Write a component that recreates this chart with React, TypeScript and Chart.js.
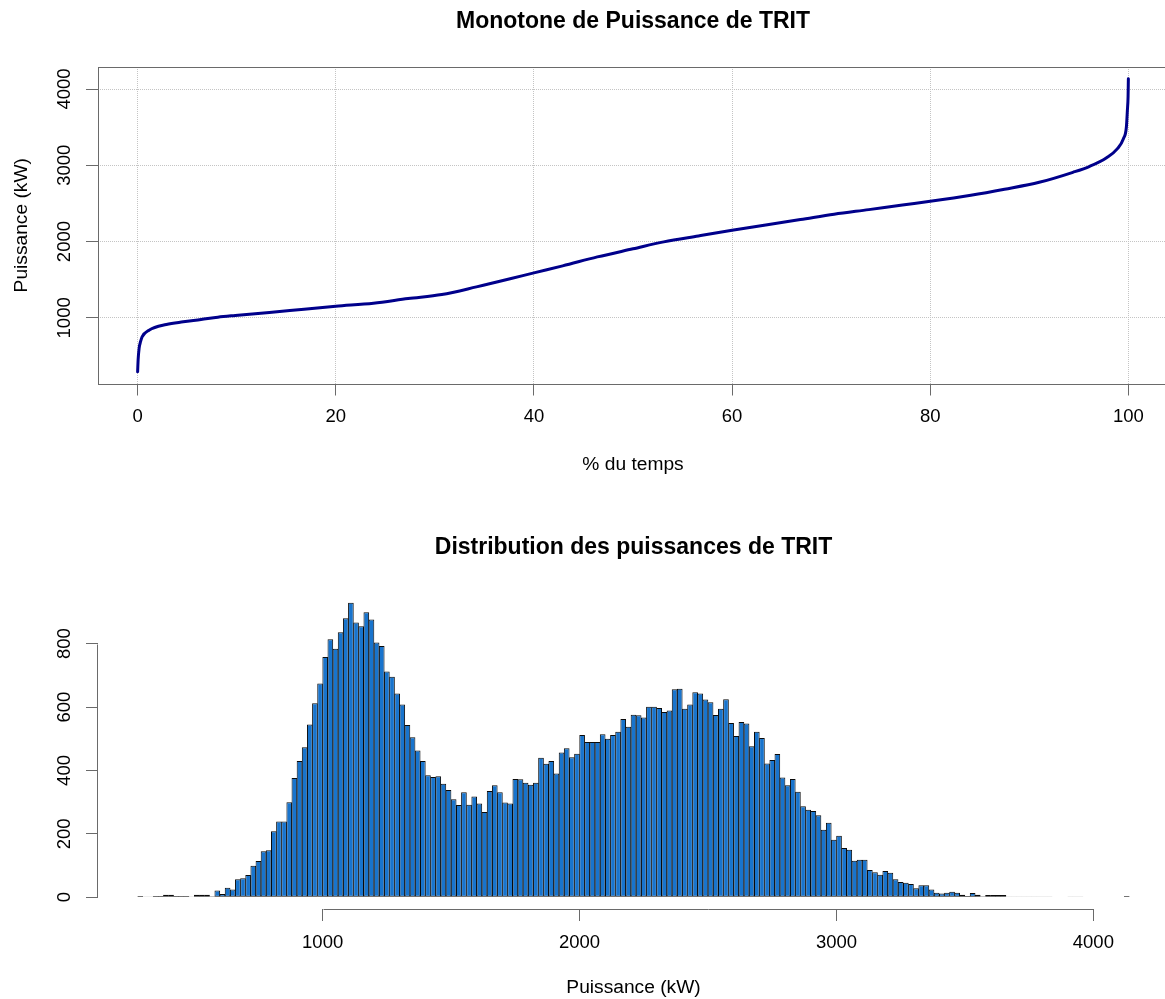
import React, { useEffect, useRef } from "react";
import { Chart, registerables } from "chart.js";

Chart.register(...registerables);

const FONT = "'Liberation Sans', Arial, Helvetica, sans-serif";
const AXIS_COLOR = "#6a6a6a";
const GRID_COLOR = "#c4c4c4";

// ---------- Monotone (load-duration curve) ----------
const monoTitle = "Monotone de Puissance de TRIT";
const monoXLabel = "% du temps";
const monoYLabel = "Puissance (kW)";
const monoPct = [
  0, 0.05, 0.15, 0.3, 0.45, 1.15, 2.9, 4.6, 6.4, 8.1, 9.85, 13.3, 16.8, 20,
  23.8, 27.3, 30.7, 34.2, 37.7, 40, 42.9, 46.4, 50, 53.1, 56.6, 60, 63.4, 66.9,
  70.3, 73.8, 77.2, 80, 84.1, 87.5, 91, 94.4, 96.1, 97.8, 98.9, 99.5, 99.8,
  99.9, 99.97, 100,
];
const monoKW = [
  293, 450, 600, 690, 751, 838, 913, 948, 978, 1009, 1031, 1070, 1114, 1153,
  1192, 1253, 1306, 1406, 1515, 1590, 1681, 1799, 1905, 1996, 2074, 2148, 2218,
  2288, 2358, 2419, 2480, 2528, 2607, 2686, 2777, 2908, 2987, 3100, 3218, 3349,
  3502, 3720, 3900, 4135,
];
const monoXTicks = [0, 20, 40, 60, 80, 100];
const monoYTicks = [1000, 2000, 3000, 4000];

// ---------- Histogram ----------
const histTitle = "Distribution des puissances de TRIT";
const histXLabel = "Puissance (kW)";
const histBinStart = 280;
const histBinWidth = 20;
const histCounts = [
  4, 1, 2, 4, 4, 8, 8, 4, 4, 4,
  2, 8, 8, 8, 3, 21, 10, 30, 24, 57,
  60, 70, 99, 114, 145, 148, 208, 239, 239, 300,
  376, 430, 473, 545, 612, 674, 758, 814, 784, 836,
  880, 929, 867, 855, 899, 876, 804, 793, 712, 696,
  643, 608, 543, 505, 463, 430, 385, 379, 382, 358,
  338, 309, 291, 331, 292, 318, 296, 269, 335, 353,
  331, 299, 296, 373, 372, 361, 355, 361, 440, 421,
  430, 390, 457, 470, 442, 453, 512, 490, 490, 490,
  514, 500, 512, 522, 562, 538, 576, 574, 567, 601,
  601, 597, 584, 589, 656, 658, 595, 608, 647, 643,
  624, 615, 575, 595, 625, 550, 509, 553, 548, 476,
  522, 502, 422, 433, 452, 378, 353, 373, 333, 287,
  276, 272, 259, 213, 235, 181, 194, 155, 150, 115,
  118, 118, 86, 79, 71, 83, 77, 57, 48, 46,
  42, 28, 38, 38, 24, 14, 12, 14, 17, 14,
  8, 4, 13, 8, 3, 7, 7, 7, 7, 2,
  2, 2, 2, 2, 2, 2, 2, 2, 0, 0,
  0, 2, 2, 2, 0, 0, 0, 0, 0, 0,
  0, 0, 4,
];
const histXTicks = [1000, 2000, 3000, 4000];
const histYTicks = [0, 200, 400, 600, 800];

// R-style 4% axis extension
function extend(lo: number, hi: number): [number, number] {
  const d = (hi - lo) * 0.04;
  return [lo - d, hi + d];
}

const boxPlugin = {
  id: "rbox",
  afterDraw(chart: any) {
    const { ctx, chartArea: a } = chart;
    ctx.save();
    ctx.strokeStyle = AXIS_COLOR;
    ctx.lineWidth = 1;
    ctx.strokeRect(
      Math.round(a.left) + 0.5,
      Math.round(a.top) + 0.5,
      Math.round(a.right - a.left),
      Math.round(a.bottom - a.top)
    );
    ctx.restore();
  },
};

const axisLinePlugin = {
  id: "raxis",
  afterDraw(chart: any) {
    const { ctx, chartArea: a, scales } = chart;
    const xs = scales.x;
    const ys = scales.y;
    ctx.save();
    ctx.strokeStyle = AXIS_COLOR;
    ctx.lineWidth = 1;
    ctx.beginPath();
    const yy = Math.round(a.bottom) + 0.5;
    ctx.moveTo(Math.round(xs.getPixelForValue(histXTicks[0])) + 0.5, yy);
    ctx.lineTo(Math.round(xs.getPixelForValue(histXTicks[histXTicks.length - 1])) + 0.5, yy);
    const xx = Math.round(a.left) - 0.5;
    ctx.moveTo(xx, Math.round(ys.getPixelForValue(histYTicks[0])) + 0.5);
    ctx.lineTo(xx, Math.round(ys.getPixelForValue(histYTicks[histYTicks.length - 1])) + 0.5);
    ctx.stroke();
    ctx.restore();
  },
};

const tickFont = { family: FONT, size: 18.5, lineHeight: 1.2 };
const axisTitleFont = { family: FONT, size: 19.2, lineHeight: 1.2 };
const mainTitleFont = { family: FONT, size: 23, weight: "bold", lineHeight: 1.2 };

function MonoChart() {
  const ref = useRef<HTMLCanvasElement>(null);
  useEffect(() => {
    const [xMin, xMax] = extend(Math.min(...monoPct), Math.max(...monoPct));
    const [yMin, yMax] = extend(Math.min(...monoKW), Math.max(...monoKW));
    const chart = new Chart(ref.current as HTMLCanvasElement, {
      type: "line",
      data: {
        datasets: [
          {
            data: monoPct.map((x, i) => ({ x, y: monoKW[i] })),
            borderColor: "#00008B",
            borderWidth: 3,
            pointRadius: 0,
            fill: false,
            cubicInterpolationMode: "monotone",
            borderJoinStyle: "round",
            borderCapStyle: "round",
          },
        ],
      },
      options: {
        animation: false,
        responsive: false,
        events: [],
        layout: { padding: { left: 0, right: 2, top: 0, bottom: 0 } },
        plugins: {
          legend: { display: false },
          tooltip: { enabled: false },
          title: {
            display: true,
            text: monoTitle,
            color: "#000",
            fullSize: false,
            font: mainTitleFont,
            padding: { top: 7.6, bottom: 31.8 },
          },
        },
        scales: {
          x: {
            type: "linear",
            min: xMin,
            max: xMax,
            afterBuildTicks: (s: any) => {
              s.ticks = monoXTicks.map((v) => ({ value: v }));
            },
            afterFit: (s: any) => {
              s.height = 106.5;
              s.paddingLeft = 0;
              s.paddingRight = 0;
            },
            ticks: {
              autoSkip: false,
              maxRotation: 0,
              color: "#000",
              padding: 10.4,
              font: tickFont,
              callback: (v: any) => String(v),
            },
            grid: {
              color: GRID_COLOR,
              lineWidth: 1,
              drawTicks: true,
              tickLength: 12,
              tickColor: AXIS_COLOR,
              tickWidth: 1,
            },
            border: { display: false, dash: [1, 1] },
            title: {
              display: true,
              text: monoXLabel,
              color: "#000",
              font: axisTitleFont,
              padding: { top: 0, bottom: 13.5 },
            },
          },
          y: {
            type: "linear",
            min: yMin,
            max: yMax,
            afterBuildTicks: (s: any) => {
              s.ticks = monoYTicks.map((v) => ({ value: v }));
            },
            afterFit: (s: any) => {
              s.width = 98;
              s.paddingTop = 0;
              s.paddingBottom = 0;
            },
            ticks: {
              autoSkip: false,
              minRotation: 90,
              maxRotation: 90,
              crossAlign: "center",
              color: "#000",
              padding: 0.4,
              font: tickFont,
              callback: (v: any) => String(v),
            },
            grid: {
              color: GRID_COLOR,
              lineWidth: 1,
              drawTicks: true,
              tickLength: 12,
              tickColor: AXIS_COLOR,
              tickWidth: 1,
            },
            border: { display: false, dash: [1, 1] },
            title: {
              display: true,
              text: monoYLabel,
              color: "#000",
              font: axisTitleFont,
              padding: { top: 10.5, bottom: 0 },
            },
          },
        },
      },
      plugins: [boxPlugin],
    } as any);
    return () => chart.destroy();
  }, []);
  return (
    <canvas
      ref={ref}
      width={1170}
      height={490}
      style={{ display: "block", width: 1170, height: 490 }}
    />
  );
}

function HistChart() {
  const ref = useRef<HTMLCanvasElement>(null);
  useEffect(() => {
    const lastEdge = histBinStart + histBinWidth * histCounts.length;
    const [xMin, xMax] = extend(histBinStart, lastEdge);
    const [yMin, yMax] = extend(0, Math.max(...histCounts));
    const chart = new Chart(ref.current as HTMLCanvasElement, {
      type: "bar",
      data: {
        datasets: [
          {
            data: histCounts.map((c, i) => ({
              x: histBinStart + histBinWidth * (i + 0.5),
              y: c,
            })),
            backgroundColor: "#1874CD",
            borderColor: "#0a0a0a",
            borderWidth: 1,
            borderSkipped: false,
            inflateAmount: 0,
            barPercentage: 1.1,
            categoryPercentage: 1,
          },
        ],
      },
      options: {
        animation: false,
        responsive: false,
        events: [],
        layout: { padding: { left: 0, right: 1, top: 0, bottom: 0 } },
        plugins: {
          legend: { display: false },
          tooltip: { enabled: false },
          title: {
            display: true,
            text: histTitle,
            color: "#000",
            fullSize: false,
            font: mainTitleFont,
            padding: { top: 44.2, bottom: 29.2 },
          },
        },
        scales: {
          x: {
            type: "linear",
            offset: false,
            min: xMin,
            max: xMax,
            afterBuildTicks: (s: any) => {
              s.ticks = histXTicks.map((v) => ({ value: v }));
            },
            afterFit: (s: any) => {
              s.height = 90;
              s.paddingLeft = 0;
              s.paddingRight = 0;
            },
            ticks: {
              autoSkip: false,
              maxRotation: 0,
              color: "#000",
              padding: 10.9,
              font: tickFont,
              callback: (v: any) => String(v),
            },
            grid: {
              display: true,
              offset: false,
              drawOnChartArea: false,
              drawTicks: true,
              tickLength: 12,
              tickColor: AXIS_COLOR,
              tickWidth: 1,
            },
            border: { display: false },
            title: {
              display: true,
              text: histXLabel,
              color: "#000",
              font: axisTitleFont,
              padding: { top: 0, bottom: 0 },
            },
          },
          y: {
            type: "linear",
            min: yMin,
            max: yMax,
            afterBuildTicks: (s: any) => {
              s.ticks = histYTicks.map((v) => ({ value: v }));
            },
            afterFit: (s: any) => {
              s.width = 98;
              s.paddingTop = 0;
              s.paddingBottom = 0;
            },
            ticks: {
              autoSkip: false,
              minRotation: 90,
              maxRotation: 90,
              crossAlign: "center",
              color: "#000",
              padding: 5.6,
              font: tickFont,
              callback: (v: any) => String(v),
            },
            grid: {
              display: true,
              drawOnChartArea: false,
              drawTicks: true,
              tickLength: 12,
              tickColor: AXIS_COLOR,
              tickWidth: 1,
            },
            border: { display: false },
          },
        },
      },
      plugins: [axisLinePlugin],
    } as any);
    return () => chart.destroy();
  }, []);
  return (
    <canvas
      ref={ref}
      width={1170}
      height={509}
      style={{ display: "block", width: 1170, height: 509 }}
    />
  );
}

export default function App() {
  return (
    <div
      style={{
        position: "absolute",
        left: 0,
        top: 0,
        width: 1165,
        height: 999,
        overflow: "hidden",
        background: "#fff",
      }}
    >
      <MonoChart />
      <HistChart />
    </div>
  );
}
